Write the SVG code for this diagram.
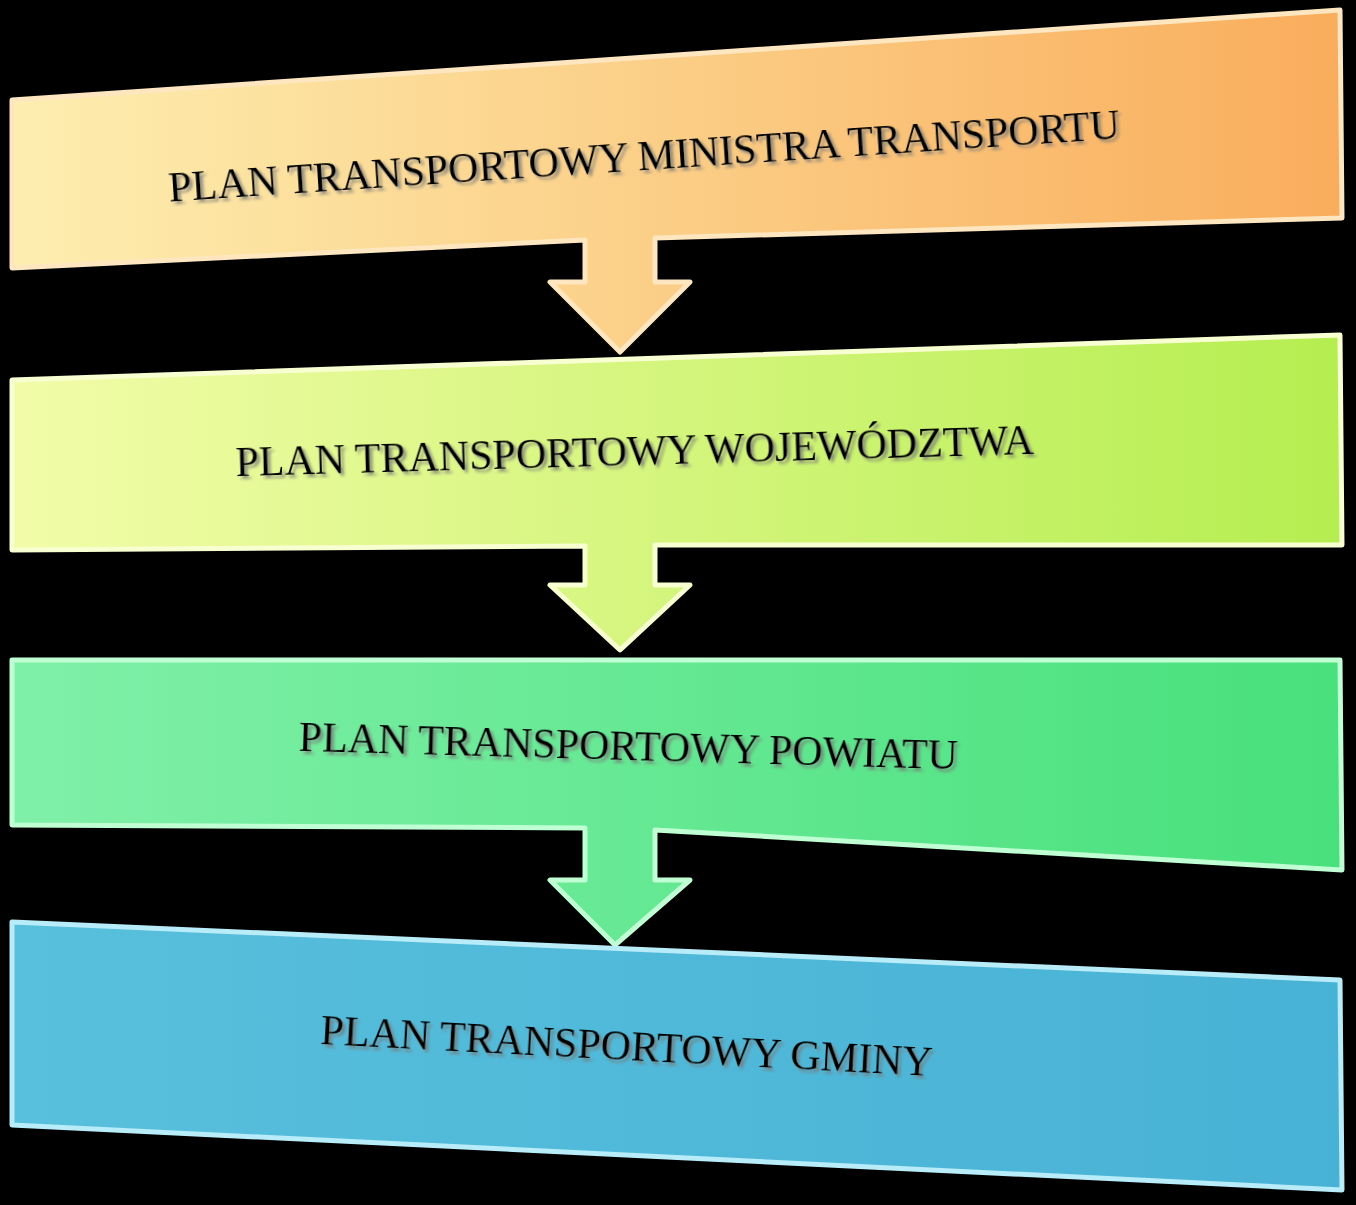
<svg xmlns="http://www.w3.org/2000/svg" width="1356" height="1205" viewBox="0 0 1356 1205">
<defs>
<linearGradient id="g1" x1="0" y1="0" x2="1" y2="0"><stop offset="0" stop-color="#fdeeb0"/><stop offset="1" stop-color="#f9ad5c"/></linearGradient>
<linearGradient id="g2" x1="0" y1="0" x2="1" y2="0"><stop offset="0" stop-color="#f2fca8"/><stop offset="1" stop-color="#b5ee50"/></linearGradient>
<linearGradient id="g3" x1="0" y1="0" x2="1" y2="0"><stop offset="0" stop-color="#80f0a8"/><stop offset="1" stop-color="#48e07c"/></linearGradient>
<linearGradient id="g4" x1="0" y1="0" x2="1" y2="0"><stop offset="0" stop-color="#58bfdc"/><stop offset="1" stop-color="#48b2d6"/></linearGradient>
<filter id="sh"><feDropShadow dx="3" dy="3" stdDeviation="1.5" flood-color="#777" flood-opacity="0.8"/></filter>
</defs>
<style>
.s{stroke-width:5;stroke-linejoin:round}
.t{font-family:"Liberation Serif",serif;font-size:42px;fill:#000;filter:url(#sh)}
</style>
<rect width="1356" height="1205" fill="#000"/>
<g id="n1">
<path class="s" fill="url(#g1)" stroke="#fde6c0" d="M12,100 L1340,10 L1342,218 L655,238 L655,282 L690,282 L620,352 L550,282 L585,282 L585,240 L12,268 Z"/>
<text class="t" x="645" y="170" text-anchor="middle" transform="rotate(-3.8 645 170)">PLAN TRANSPORTOWY MINISTRA TRANSPORTU</text>
</g>
<g id="n2">
<path class="s" fill="url(#g2)" stroke="#f8ffd0" d="M12,380 L1340,335 L1342,545 L655,545 L655,585 L690,585 L620,650 L550,585 L585,585 L585,546 L12,550 Z"/>
<text class="t" x="635" y="465" text-anchor="middle" transform="rotate(-1.6 635 465)">PLAN TRANSPORTOWY WOJEWÓDZTWA</text>
</g>
<g id="n3">
<path class="s" fill="url(#g3)" stroke="#c0ffd4" d="M12,660 L1340,660 L1342,870 L655,830 L655,880 L690,880 L615,945 L550,880 L585,880 L585,828 L12,825 Z"/>
<text class="t" x="628" y="760" text-anchor="middle" transform="rotate(1.6 628 760)">PLAN TRANSPORTOWY POWIATU</text>
</g>
<g id="n4">
<path class="s" fill="url(#g4)" stroke="#b8ecf8" d="M12,922 L1340,980 L1342,1190 L12,1125 Z"/>
<text class="t" x="626" y="1060" text-anchor="middle" transform="rotate(3 626 1060)">PLAN TRANSPORTOWY GMINY</text>
</g>
<g id="connectors"></g>
</svg>
